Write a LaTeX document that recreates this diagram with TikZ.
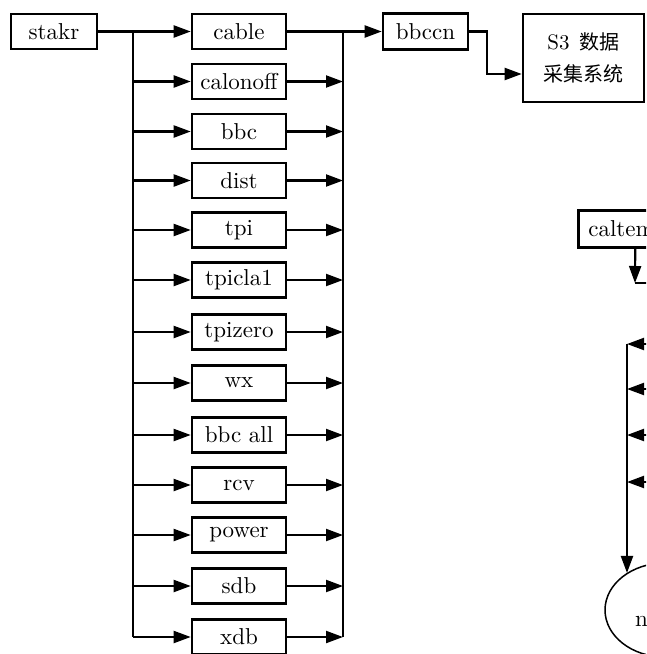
\documentclass[tikz,border=0pt]{standalone}
\usepackage{fontspec}
\newfontfamily\cjk{Noto Sans CJK SC}
\usetikzlibrary{arrows.meta,shapes.geometric}
\newcommand\BigT[1]{\scalebox{2.3}{\fontsize{10}{12}\selectfont #1}}
\begin{document}
\begin{tikzpicture}[x=1pt,y=-1pt,
  box/.style={draw,line width=2.6pt,minimum height=35pt,inner sep=0pt},
  item/.style={box,minimum width=94pt},
  conn/.style={line width=2.1pt},
  arr/.style={conn,-{Triangle[length=17pt,width=12pt]}}]
\useasboundingbox (0,0) rectangle (646,654);
\clip (0,0) rectangle (646,654);
\fill[white] (0,0) rectangle (646,654);

% left column
\node[box,minimum width=86pt] (stakr) at (54,31.5) {\BigT{stakr}};
\foreach \n/\y/\t in {cable/31.5/cable,calonoff/81.5/calonoff,bbc/131.5/bbc,dist/180.5/dist,
  tpi/230/tpi,tpicla/280/tpicla1,tpizero/332/tpizero,wx/383/wx,bbcall/435/bbc all,
  rcv/485/rcv,power/535/power,sdb/586/sdb,xdb/637/xdb}
  \node[item] (\n) at (239,\y) {\BigT{\t}};

\coordinate (lb) at (133,31.5);
\coordinate (rb) at (343,31.5);
\draw[arr] (stakr.east) -- (cable.west);
\draw[conn] (lb) -- (lb |- xdb.west);
\draw[conn] (rb) -- (rb |- xdb.east);
\foreach \n in {calonoff,bbc,dist,tpi,tpicla,tpizero,wx,bbcall,rcv,power,sdb,xdb}{
  \draw[arr] (lb |- \n.west) -- (\n.west);
  \draw[arr] (\n.east) -- (rb |- \n.east);
}

% top right
\node[box,minimum width=85pt,minimum height=36pt] (bbccn) at (425.5,31.5) {\BigT{bbccn}};
\node[box,minimum width=121pt,minimum height=88pt,align=center,font=\fontsize{20}{32}\selectfont] (s3) at (583.5,58)
  {\scalebox{2.1}{\fontsize{10}{12}\selectfont S3}\hspace{0.5em}{\cjk 数据}\\{\cjk 采集系统}};
\draw[arr] (cable.east) -- (bbccn.west);
\draw[arr] (bbccn.east) -- ++(18,0) |- ([yshift=-16pt]s3.west);

% right side (cut at the edge)
\node[box,anchor=north west,minimum height=37pt,text width=94pt,align=left,inner xsep=10pt] (caltem) at (577,209) {\BigT{caltem}};
\coordinate (cj) at (635,283);
\coordinate (cjr) at (690,283);
\draw[arr] (caltem.south) -- (cj);
\draw[conn] (cj) -- (cjr);

\coordinate (vb) at (627,344);
\foreach \i/\y in {1/344,2/389,3/435,4/482}{
  \coordinate (src\i) at (690,\y);
  \draw[arr] (src\i) -- (627,\y);
}
\node[draw,ellipse,line width=1.5pt,minimum width=120pt,minimum height=94pt,inner sep=0pt] (ell) at (665,610) {};
\draw[arr] (vb) -- (vb |- ell.136);
\node[anchor=west,inner sep=0pt] (ntext) at (635,621) {\BigT{n}};
\end{tikzpicture}
\end{document}
